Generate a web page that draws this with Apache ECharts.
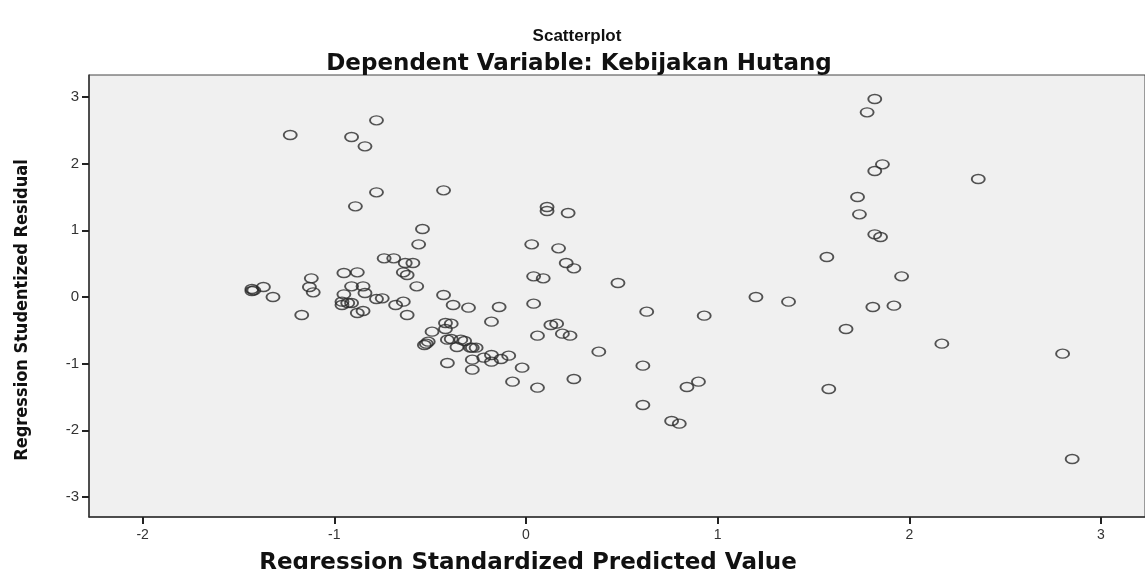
<!DOCTYPE html>
<html>
<head>
<meta charset="utf-8">
<title>Scatterplot</title>
<script src="https://cdn.jsdelivr.net/npm/echarts@6/dist/echarts.min.js"></script>
<style>
    html, body { margin: 0; padding: 0; background: #fff; }
    #chart { width: 1145px; height: 569px; }
</style>
</head>
<body>
<div id="chart"></div>
<script>
// regression standardized predicted value (x) and studentized residual (y)
var predicted = [
    -1.23, -0.91, -0.84, -0.78, -0.78, -0.43, -0.89, -0.54, -0.56, -0.74,
    -0.69, -0.63, -0.59, -0.64, -0.62, -0.95, -0.88, -1.12, -1.13, -0.91,
    -0.85, -0.57, -1.43, -1.42, -1.43, -1.37, -1.32, -1.17, -1.11, -0.95,
    -0.84, -0.96, -0.93, -0.91, -0.96, -0.78, -0.75, -0.68, -0.64, -0.88,
    -0.85, -0.62, -0.43, -0.38, -0.30, -0.42, -0.39, -0.42, -0.49, -0.51,
    -0.53, -0.52, -0.41, -0.39, -0.34, -0.32, -0.36, -0.29, -0.28, -0.26,
    -0.28, -0.41, -0.28, -0.14, 0.04, -0.18, 0.13, 0.16, 0.06, 0.19,
    0.23, -0.22, -0.18, -0.18, -0.13, -0.09, -0.02, -0.07, 0.06, 0.25,
    0.38, 0.63, 0.93, 0.61, 0.61, 0.84, 0.90, 0.76, 0.80, 0.11,
    0.11, 0.22, 0.03, 0.17, 0.21, 0.25, 0.04, 0.09, 0.48, 1.82,
    1.78, 1.86, 1.82, 2.36, 1.73, 1.74, 1.82, 1.85, 1.57, 1.96,
    1.20, 1.37, 1.81, 1.92, 1.67, 2.17, 1.58, 2.80, 2.85
];
var residual = [
    2.43, 2.40, 2.26, 2.65, 1.57, 1.60, 1.36, 1.02, 0.79, 0.58,
    0.58, 0.51, 0.51, 0.37, 0.33, 0.36, 0.37, 0.28, 0.15, 0.16,
    0.16, 0.16, 0.12, 0.10, 0.09, 0.15, 0.00, -0.27, 0.07, 0.04,
    0.06, -0.07, -0.09, -0.09, -0.12, -0.03, -0.02, -0.12, -0.07, -0.24,
    -0.21, -0.27, 0.03, -0.12, -0.16, -0.39, -0.40, -0.48, -0.52, -0.67,
    -0.72, -0.70, -0.64, -0.63, -0.64, -0.66, -0.75, -0.76, -0.76, -0.76,
    -0.94, -0.99, -1.09, -0.15, -0.10, -0.37, -0.42, -0.40, -0.58, -0.55,
    -0.58, -0.91, -0.87, -0.97, -0.93, -0.88, -1.06, -1.27, -1.36, -1.23,
    -0.82, -0.22, -0.28, -1.03, -1.62, -1.35, -1.27, -1.86, -1.90, 1.35,
    1.29, 1.26, 0.79, 0.73, 0.51, 0.43, 0.31, 0.28, 0.21, 2.97,
    2.77, 1.99, 1.89, 1.77, 1.50, 1.24, 0.94, 0.90, 0.60, 0.31,
    0.00, -0.07, -0.15, -0.13, -0.48, -0.70, -1.38, -0.85, -2.43
];
var xTicks = [-2, -1, 0, 1, 2, 3];
var yTicks = [-3, -2, -1, 0, 1, 2, 3];

var chart = echarts.init(document.getElementById('chart'));

var points = [];
for (var i = 0; i < predicted.length; i++) {
    points.push([predicted[i], residual[i]]);
}

var boldWide = 'DejaVu Sans';

chart.setOption({
    animation: false,
    backgroundColor: '#ffffff',
    title: [{
        text: 'Scatterplot',
        left: 572,
        top: 23,
        textAlign: 'center',
        textStyle: { fontFamily: 'Liberation Sans', fontWeight: 'bold', fontSize: 17, color: '#111' }
    }, {
        text: 'Dependent Variable: Kebijakan Hutang',
        left: 574,
        top: 48,
        textAlign: 'center',
        textStyle: { fontFamily: boldWide, fontWeight: 'bold', fontSize: 23, color: '#111' }
    }, {
        text: 'Regression Standardized Predicted Value',
        left: 523,
        top: 547,
        textAlign: 'center',
        textStyle: { fontFamily: boldWide, fontWeight: 'bold', fontSize: 23, color: '#111' }
    }],
    grid: {
        left: 89,
        right: 0,
        top: 75,
        bottom: 52,
        show: true,
        backgroundColor: '#f0f0f0',
        borderColor: '#444',
        borderWidth: 1
    },
    xAxis: {
        type: 'value',
        min: -2.28,
        max: 3.23,
        axisLine: { show: true, onZero: false, lineStyle: { color: '#333', width: 1.5 } },
        axisTick: { show: true, customValues: xTicks, length: 7, lineStyle: { color: '#222', width: 2 } },
        axisLabel: { customValues: xTicks, color: '#333', fontSize: 14, fontFamily: 'Liberation Sans', margin: 11 },
        splitLine: { show: false }
    },
    yAxis: {
        type: 'value',
        min: -3.30,
        max: 3.33,
        name: 'Regression Studentized Residual',
        nameLocation: 'middle',
        nameGap: 58,
        nameTextStyle: {
            fontFamily: 'DejaVu Sans Condensed, Liberation Sans',
            fontWeight: 'bold',
            fontSize: 18,
            color: '#111',
            padding: [0, 28, 0, 0]
        },
        axisLine: { show: true, onZero: false, lineStyle: { color: '#333', width: 1.5 } },
        axisTick: { show: true, customValues: yTicks, length: 7, lineStyle: { color: '#222', width: 2 } },
        axisLabel: { customValues: yTicks, color: '#333', fontSize: 15, fontFamily: 'Liberation Sans', margin: 10 },
        splitLine: { show: false }
    },
    series: [{
        type: 'scatter',
        data: points,
        symbol: 'circle',
        symbolSize: [13, 9],
        itemStyle: { color: 'rgba(0,0,0,0)', borderColor: '#2a2a2a', borderWidth: 1.6 }
    }]
});
</script>
</body>
</html>
